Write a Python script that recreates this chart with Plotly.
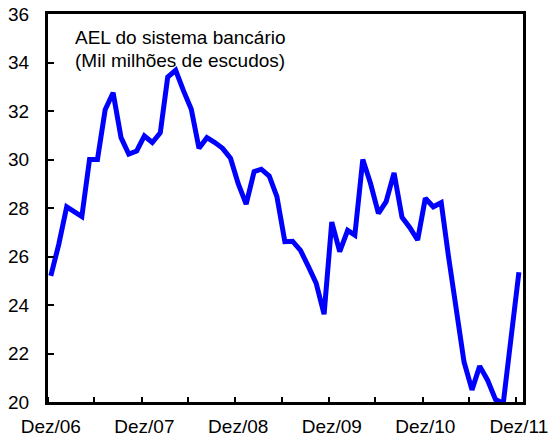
import pandas as pd
import plotly.graph_objects as go

# Monthly stock of AEL in the banking system, Dec 2006 - Dec 2011 (thousand million escudos)
months = pd.date_range("2006-12-01", "2011-12-01", freq="MS")
values = [
    25.20, 26.50, 28.05, 27.85, 27.65, 30.00, 30.00, 32.05, 32.75, 30.90,
    30.22, 30.35, 30.97, 30.70, 31.10, 33.40, 33.68, 32.85, 32.07, 30.46,
    30.90, 30.70, 30.46, 30.05, 29.00, 28.16, 29.50, 29.60, 29.32, 28.47,
    26.61, 26.63, 26.25, 25.58, 24.90, 23.62, 27.42, 26.20, 27.08, 26.88,
    30.00, 29.02, 27.78, 28.26, 29.45, 27.62, 27.20, 26.68, 28.40, 28.05,
    28.22, 26.03, 23.84, 21.65, 20.50, 21.48, 20.90, 20.10, 19.95, 22.60,
    25.35,
]

tick_dates = ["2006-12-01", "2007-12-01", "2008-12-01", "2009-12-01", "2010-12-01", "2011-12-01"]
tick_labels = ["Dez/06", "Dez/07", "Dez/08", "Dez/09", "Dez/10", "Dez/11"]
# small tick marks every six months, sitting at the month boundaries
mark_dates = ["2006-11-20", "2007-05-20", "2007-11-20", "2008-05-20", "2008-11-20",
              "2009-05-20", "2009-11-20", "2010-05-20", "2010-11-20", "2011-05-20",
              "2011-11-20"]

FONT = "Liberation Sans, Arial, sans-serif"

fig = go.Figure(
    go.Scatter(
        x=months,
        y=values,
        mode="lines",
        line=dict(color="#0000FF", width=5),
        hoverinfo="skip",
    )
)

fig.update_layout(
    width=551,
    height=438,
    margin=dict(l=48, r=28, t=14, b=36),
    paper_bgcolor="white",
    plot_bgcolor="white",
    showlegend=False,
    font=dict(family=FONT, size=19, color="black"),
    xaxis=dict(
        type="date",
        range=["2006-11-20", "2011-12-17"],
        automargin=False,
        tickmode="array",
        tickvals=tick_dates,
        ticktext=tick_labels,
        ticks="",
        ticklabelstandoff=5,
        showgrid=False,
        zeroline=False,
        showline=True,
        linecolor="black",
        linewidth=3,
        mirror=True,
        minor=dict(
            tickmode="array",
            tickvals=mark_dates,
            ticks="inside",
            ticklen=5,
            tickwidth=2,
            tickcolor="black",
            showgrid=False,
        ),
    ),
    yaxis=dict(
        range=[20, 36],
        automargin=False,
        tickmode="linear",
        tick0=20,
        dtick=2,
        ticks="inside",
        ticklen=6,
        tickwidth=2,
        tickcolor="black",
        ticklabelstandoff=12,
        showgrid=False,
        zeroline=False,
        showline=True,
        linecolor="black",
        linewidth=3,
        mirror=True,
    ),
    annotations=[
        dict(text="AEL do sistema bancário", xref="paper", yref="paper",
             x=0.0526, y=0.9407, xanchor="left", yanchor="middle",
             showarrow=False, font=dict(family=FONT, size=19, color="black")),
        dict(text="(Mil milhões de escudos)", xref="paper", yref="paper",
             x=0.0526, y=0.8814, xanchor="left", yanchor="middle",
             showarrow=False, font=dict(family=FONT, size=19, color="black")),
    ],
)

fig.write_html("out.html")
